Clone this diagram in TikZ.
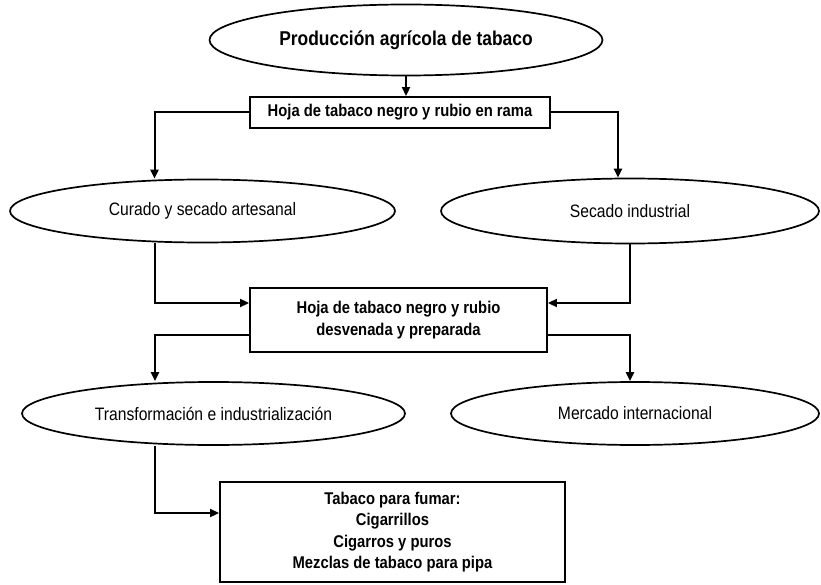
\documentclass[tikz,border=0pt]{standalone}
\usepackage{fontspec}
\setmainfont{Liberation Sans}[FakeStretch=0.87]
\usetikzlibrary{shapes.geometric,arrows.meta}

\tikzset{
    oval/.style={shape=ellipse, draw=black, line width=1.7pt, inner sep=0pt,
        font=\fontsize{18}{21}\selectfont},
    box/.style={shape=rectangle, draw=black, line width=1.9pt, inner sep=0pt,
        align=center, font=\fontsize{17}{21.5}\selectfont\bfseries},
    flow/.style={draw=black, line width=2pt, -{Triangle[length=9pt,width=8pt]}}
}

\begin{document}
\begin{tikzpicture}[x=1pt,y=-1pt]
    \useasboundingbox (0,0) rectangle (821,585);

    % ovals and boxes, top to bottom
    \node[oval, minimum width=393pt, minimum height=71pt,
        font=\fontsize{20}{24}\selectfont\bfseries] (prod) at (406,40) {Producción agrícola de tabaco};
    \node[box, minimum width=300pt, minimum height=31pt] (rama) at (400,112.5) {Hoja de tabaco negro y rubio en rama};
    \node[oval, minimum width=385pt, minimum height=63pt] (arte) at (202.5,211) {Curado y secado artesanal};
    \node[oval, minimum width=378pt, minimum height=65pt] (indus) at (630,211) {Secado industrial};
    \node[box, minimum width=297pt, minimum height=64pt] (prep) at (398.5,320) {Hoja de tabaco negro y rubio\\desvenada y preparada};
    \node[oval, minimum width=383pt, minimum height=63pt] (trans) at (213.5,413.5) {Transformación e industrialización};
    \node[oval, minimum width=368pt, minimum height=63pt] (merc) at (635,413.5) {Mercado internacional};
    \node[box, minimum width=345pt, minimum height=100pt] (fumar) at (392.5,532) {Tabaco para fumar:\\Cigarrillos\\Cigarros y puros\\Mezclas de tabaco para pipa};

    % connectors
    \draw[flow] (prod.south) -- (prod.south |- rama.north);
    \draw[flow] (rama.west) -| ([xshift=-48pt]arte.north);
    \draw[flow] (rama.east) -| ([xshift=-12pt]indus.north);
    \draw[flow] ([xshift=-48pt]arte.south) |- ([yshift=17pt]prep.west);
    \draw[flow] (indus.south) |- ([yshift=17pt]prep.east);
    \draw[flow] ([yshift=-15pt]prep.west) -| ([xshift=-58.5pt]trans.north);
    \draw[flow] ([yshift=-15pt]prep.east) -| ([xshift=-5pt]merc.north);
    \draw[flow] ([xshift=-58.5pt]trans.south) |- ([yshift=19pt]fumar.west);

\end{tikzpicture}
\end{document}
